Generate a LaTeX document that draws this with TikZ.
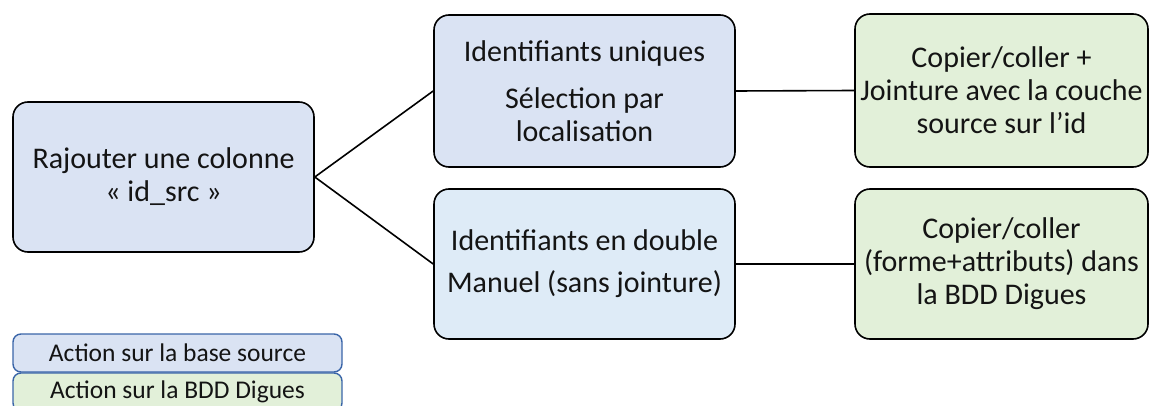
\documentclass[tikz,border=0pt]{standalone}
\usepackage{fontspec}
\setmainfont{Carlito}
\definecolor{bluefill}{HTML}{DAE3F3}
\definecolor{bluefilltwo}{HTML}{DEEBF7}
\definecolor{greenfill}{HTML}{E2F0D9}
\definecolor{legborder}{HTML}{3A65A8}
\definecolor{txt}{HTML}{141414}
\begin{document}
\begin{tikzpicture}[x=1pt,y=-1pt,
  box/.style={draw=black,line width=1.6pt,rounded corners=15pt,rectangle,align=center,inner sep=0pt,
    font=\fontsize{30}{33}\selectfont,text=txt},
  legbox/.style={draw=legborder,line width=1.4pt,rounded corners=8pt,rectangle,align=center,inner sep=0pt,
    font=\fontsize{25.5}{28}\selectfont,text=txt,minimum width=329pt,minimum height=38pt},
  link/.style={draw=black,line width=1.6pt}]
\useasboundingbox (0,0) rectangle (1149,406);
\node[box,fill=bluefill,minimum width=301pt,minimum height=150pt] (left) at (163.5,177) {Rajouter une colonne\\« id\_src »};
\node[box,fill=bluefill,minimum width=301pt,minimum height=152pt] (tm) at (584.5,91) {Identifiants uniques\\[14pt]Sélection par\\localisation};
\node[box,fill=bluefilltwo,minimum width=301pt,minimum height=150pt] (bm) at (584.5,264) {Identifiants en double\\[9pt]Manuel (sans jointure)};
\node[box,fill=greenfill,minimum width=293pt,minimum height=153pt] (tr) at (1001.5,90.5) {Copier/coller +\\Jointure avec la couche\\source sur l’id};
\node[box,fill=greenfill,minimum width=293pt,minimum height=150pt] (br) at (1001.5,264) {Copier/coller\\(forme+attributs) dans\\la BDD Digues};
\node[legbox,fill=greenfill] (leg2) at (177.5,392) {Action sur la BDD Digues};
\node[legbox,fill=bluefill] (leg1) at (177.5,353) {Action sur la base source};
\draw[link] (left.east) -- (tm.west);
\draw[link] (left.east) -- (bm.west);
\draw[link] (tm.east) -- (tr.west);
\draw[link] (bm.east) -- (br.west);
\end{tikzpicture}
\end{document}
